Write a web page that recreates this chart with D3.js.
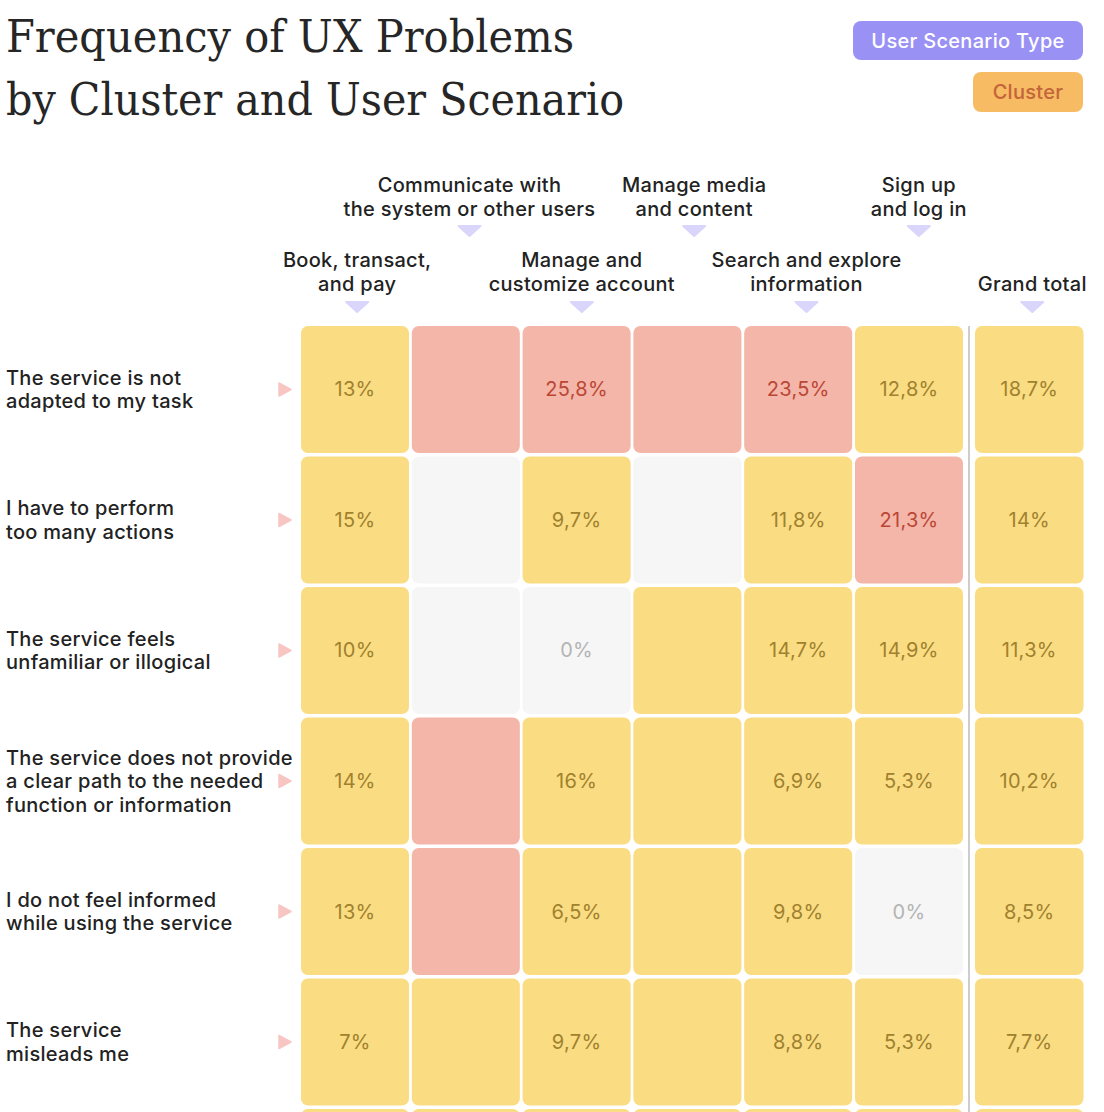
<!DOCTYPE html>
<html>
<head>
<meta charset="utf-8">
<script src="https://cdn.jsdelivr.net/npm/d3@7"></script>
<style>
  html, body { margin: 0; padding: 0; background: #fff; }
  svg { display: block; }
</style>
</head>
<body>
<svg id="chart" width="1104" height="1112"></svg>
<script>
// ---------- DATA ----------
const titleLines = ["Frequency of UX Problems", "by Cluster and User Scenario"];
const legendLabels = ["User Scenario Type", "Cluster"];

const scenarios = [
  "Book, transact,\nand pay",
  "Communicate with\nthe system or other users",
  "Manage and\ncustomize account",
  "Manage media\nand content",
  "Search and explore\ninformation",
  "Sign up\nand log in"
];
const totalLabel = "Grand total";

const clusters = [
  "The service is not\nadapted to my task",
  "I have to perform\ntoo many actions",
  "The service feels\nunfamiliar or illogical",
  "The service does not provide\na clear path to the needed\nfunction or information",
  "I do not feel informed\nwhile using the service",
  "The service\nmisleads me",
  ""
];

// values (null = value not shown in the cell)
const values = [
  [13,   null, 25.8, null, 23.5, 12.8],
  [15,   null, 9.7,  null, 11.8, 21.3],
  [10,   null, 0,    null, 14.7, 14.9],
  [14,   null, 16,   null, 6.9,  5.3],
  [13,   null, 6.5,  null, 9.8,  0],
  [7,    null, 9.7,  null, 8.8,  5.3],
  [null, null, null, null, null, null]
];
const totals = [18.7, 14, 11.3, 10.2, 8.5, 7.7, null];

// colour level of each cell: h = high, m = medium, z = none
const levels = [
  ["m", "h", "h", "h", "h", "m"],
  ["m", "z", "m", "z", "m", "h"],
  ["m", "z", "z", "m", "m", "m"],
  ["m", "h", "m", "m", "m", "m"],
  ["m", "h", "m", "m", "m", "z"],
  ["m", "m", "m", "m", "m", "m"],
  ["m", "m", "m", "m", "m", "m"]
];
const totalLevels = ["m", "m", "m", "m", "m", "m", "m"];

// ---------- CHART ----------
const svg = d3.select("#chart");
const sans = "Inter, 'Noto Sans', sans-serif";
const FS = 20, LS = 0.3, FW = 500;

const fill = d3.scaleOrdinal().domain(["h", "m", "z"]).range(["#F3B6A8", "#FADC82", "#F6F6F6"]);
const ink  = d3.scaleOrdinal().domain(["h", "m", "z"]).range(["#BC4636", "#A0812E", "#B4B4B4"]);

const x = d3.scaleBand().domain(d3.range(scenarios.length)).range([301, 963]).paddingInner(0.025);
const xTotal = d3.scaleBand().domain([0]).range([975, 1083.5]);
const xHead = d3.scaleBand().domain(d3.range(scenarios.length)).range([301, 975]);
const y = d3.scaleBand().domain(d3.range(clusters.length)).range([326, 326 + clusters.length * 130.5 - 3.5]).paddingInner(0.027);

const fmt = v => (Number.isInteger(v) ? String(v) : d3.format(".1f")(v).replace(".", ",")) + "%";

function styleSans(sel) {
  return sel.attr("font-family", sans).attr("font-size", FS).attr("font-weight", FW).attr("letter-spacing", LS);
}

// Title
svg.append("g").selectAll("text").data(titleLines).join("text")
  .attr("x", 6).attr("y", (d, i) => 52 + i * 63)
  .attr("font-family", "'DejaVu Serif', serif")
  .attr("font-size", 44)
  .attr("fill", "#262626")
  .attr("textLength", (d, i) => [568, 618][i])
  .attr("lengthAdjust", "spacingAndGlyphs")
  .text(d => d);

// Legend
const legend = [
  { label: legendLabels[0], x: 853, y: 21, w: 230, h: 39, fill: "#9A91F5", color: "#FFFFFF" },
  { label: legendLabels[1], x: 973, y: 72, w: 110, h: 40, fill: "#F6BB63", color: "#C4643A" }
];
const lg = svg.append("g").selectAll("g").data(legend).join("g");
lg.append("rect").attr("x", d => d.x).attr("y", d => d.y).attr("width", d => d.w).attr("height", d => d.h)
  .attr("rx", 8).attr("fill", d => d.fill);
lg.append("text").attr("x", d => d.x + d.w / 2).attr("y", d => d.y + d.h / 2 + 7)
  .attr("text-anchor", "middle").call(styleSans)
  .attr("fill", d => d.color).text(d => d.label);

// Column headers
const headers = scenarios.map((s, i) => ({ lines: s.split("\n"), cx: xHead(i) + xHead.bandwidth() / 2, upper: i % 2 === 1 }));
headers.push({ lines: [totalLabel], cx: xTotal(0) + xTotal.bandwidth() / 2 + 3, upper: false, single: true });

const hg = svg.append("g").selectAll("g").data(headers).join("g");
hg.each(function (d) {
  const g = d3.select(this);
  const base = d.upper ? 192 : 267;
  const startY = d.single ? base + 23.5 : base;
  g.selectAll("text").data(d.lines).join("text")
    .attr("x", d.cx).attr("y", (l, i) => startY + i * 23.5)
    .attr("text-anchor", "middle").call(styleSans)
    .attr("fill", "#222").text(l => l);
  const ty = d.upper ? 226 : 302;
  g.append("path")
    .attr("d", `M${d.cx - 11},${ty} L${d.cx + 11},${ty} L${d.cx},${ty + 10} Z`)
    .attr("fill", "#D9D5FB").attr("stroke", "#D9D5FB").attr("stroke-linejoin", "round").attr("stroke-width", 2);
});

// Row labels
const rg = svg.append("g").selectAll("g").data(clusters).join("g");
rg.each(function (d, r) {
  const g = d3.select(this);
  const lines = d ? d.split("\n") : [];
  const cy = y(r) + y.bandwidth() / 2;
  const lh = 23.5;
  g.selectAll("text").data(lines).join("text")
    .attr("x", 6).attr("y", (l, i) => cy + (i - (lines.length - 1) / 2) * lh + 7)
    .call(styleSans).attr("fill", "#222").text(l => l);
  if (d) {
    g.append("path")
      .attr("d", `M${279},${cy - 6.5} L${291},${cy} L${279},${cy + 6.5} Z`)
      .attr("fill", "#F8C6C2").attr("stroke", "#F8C6C2").attr("stroke-linejoin", "round").attr("stroke-width", 1.5);
  }
});

// Cells
const cells = [];
values.forEach((row, r) => row.forEach((v, c) => cells.push({ r, c, v, lv: levels[r][c], x: x(c), w: x.bandwidth() })));
totals.forEach((v, r) => cells.push({ r, c: "t", v, lv: totalLevels[r], x: xTotal(0), w: xTotal.bandwidth() }));

const cg = svg.append("g").selectAll("g").data(cells).join("g");
cg.append("rect")
  .attr("x", d => d.x).attr("y", d => y(d.r))
  .attr("width", d => d.w).attr("height", y.bandwidth())
  .attr("rx", 7).attr("fill", d => fill(d.lv));
cg.filter(d => d.v !== null).append("text")
  .attr("x", d => d.x + d.w / 2).attr("y", d => y(d.r) + y.bandwidth() / 2 + 7)
  .attr("text-anchor", "middle").call(styleSans).attr("font-weight", 400)
  .attr("fill", d => d.v === 0 ? ink("z") : ink(d.lv))
  .text(d => fmt(d.v));

// Separator before grand total
svg.append("line")
  .attr("x1", 969).attr("x2", 969)
  .attr("y1", y(0)).attr("y2", 1112)
  .attr("stroke", "#CDCDCD").attr("stroke-width", 2);
</script>
</body>
</html>
